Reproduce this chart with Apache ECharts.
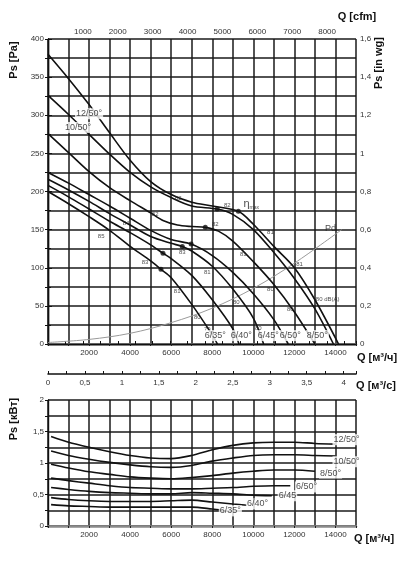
<!DOCTYPE html>
<html>
<head>
<meta charset="utf-8">
<script src="https://cdn.jsdelivr.net/npm/echarts/dist/echarts.min.js"></script>
<style>
html,body{margin:0;padding:0;background:#fff}
#main{width:398px;height:561px}
</style>
</head>
<body>
<div id="main"></div>
<script>
// fan curves, static pressure Ps [Pa] vs Q [m3/h]
var q_12_50 = [0, 1000, 2000, 3000, 4000, 5000, 6000, 7000, 8000, 9270, 10000, 11000, 12000, 13000, 14150];
var ps_12_50 = [380, 348, 314, 277, 241, 213, 196, 186, 181, 174, 157, 128, 100, 58, 0];
var q_10_50 = [0, 1000, 2000, 3000, 4000, 5000, 6000, 7000, 8240, 9000, 10000, 11000, 12000, 13000, 13900];
var ps_10_50 = [326, 301, 275, 249, 225, 206, 192, 181, 177, 170, 150, 120, 86, 46, 0];
var q_8_50 = [0, 1000, 2000, 3000, 4000, 5000, 5600, 6300, 7000, 7660, 8300, 9000, 10000, 11000, 12000, 13000];
var ps_8_50 = [276, 251, 226, 205, 188, 172, 162, 156, 154, 153, 148, 135, 108, 78, 42, 0];
var q_6_50 = [0, 1000, 2000, 3000, 4000, 5000, 6000, 6970, 8000, 9000, 10000, 11000, 11700];
var ps_6_50 = [225, 211, 196, 181, 165, 149, 137, 131, 116, 94, 66, 32, 0];
var q_6_45 = [0, 1000, 2000, 3000, 4000, 5000, 6000, 6540, 7000, 8000, 9000, 10000, 10500];
var ps_6_45 = [216, 202, 187, 171, 156, 141, 132, 128, 122, 102, 72, 34, 0];
var q_6_40 = [0, 1000, 2000, 3000, 4000, 5000, 5600, 6000, 7000, 8000, 9000, 9300];
var ps_6_40 = [208, 193, 177, 161, 146, 130, 119, 112, 90, 58, 20, 0];
var q_6_35 = [0, 1000, 2000, 3000, 4000, 5000, 5500, 6000, 7000, 8000, 8250];
var ps_6_35 = [200, 184, 167, 149, 128, 109, 98, 87, 52, 12, 0];

// dynamic pressure
var q_pd = [0, 2000, 4000, 6000, 8000, 10000, 12000, 14300];
var pd = [2, 6, 14, 28, 47, 73, 106, 150];

// operating points
var dotQ = [9270, 8240, 7660, 6970, 6540, 5600, 5500];
var dotPs = [174, 177, 153, 131, 128, 119, 98];

// dB(A) marks on the top chart
var dbQ = [6340, 5220, 3800, 2590, 6540, 4730, 8150, 8730, 10830, 9510, 7760, 6290, 12250, 10830, 9170, 11800, 10240, 7270, 7760, 13620];
var dbPs = [191, 170, 158, 141, 120, 107, 157, 182, 146, 117, 94, 69, 104, 72, 54, 45, 20, 35, 19, 58];
var dbText = ['82', '82', '84', '85', '83', '83', '82', '82', '81', '81', '81', '81', '81', '80', '80', '80', '80', '80', '79', '80 dB(A)'];

// curve names on the top chart
var nameQ = [2000, 1460, 8150, 9410, 10730, 11800, 13120];
var namePs = [302, 284, 11, 11, 11, 11, 11];
var nameText = ['12/50°', '10/50°', '6/35°', '6/40°', '6/45°', '6/50°', '8/50°'];

// power [kW] vs Q
var qp_12_50 = [150, 1000, 2000, 3000, 4000, 5000, 6000, 7000, 8000, 9000, 10000, 11000, 12000, 13000, 14000];
var kw_12_50 = [1.42, 1.33, 1.25, 1.18, 1.12, 1.08, 1.07, 1.12, 1.21, 1.28, 1.32, 1.33, 1.33, 1.31, 1.30];
var qp_10_50 = [150, 1000, 2000, 3000, 4000, 5000, 6000, 7000, 8000, 9000, 10000, 11000, 12000, 13000, 14000];
var kw_10_50 = [1.19, 1.12, 1.06, 1.01, 0.97, 0.94, 0.93, 0.96, 1.03, 1.08, 1.12, 1.13, 1.13, 1.12, 1.11];
var qp_8_50 = [150, 1000, 2000, 3000, 4000, 5000, 6000, 7000, 8000, 9000, 10000, 11000, 12000, 13000];
var kw_8_50 = [0.98, 0.92, 0.86, 0.82, 0.78, 0.76, 0.75, 0.77, 0.80, 0.84, 0.87, 0.89, 0.89, 0.87];
var qp_6_50 = [150, 1000, 2000, 3000, 4000, 5000, 6000, 7000, 8000, 9000, 10000, 11000, 11800];
var kw_6_50 = [0.76, 0.72, 0.68, 0.64, 0.61, 0.60, 0.59, 0.59, 0.60, 0.61, 0.63, 0.64, 0.64];
var qp_6_45 = [150, 1000, 2000, 3000, 4000, 5000, 6000, 7000, 8000, 9000, 10000, 10900];
var kw_6_45 = [0.61, 0.58, 0.55, 0.53, 0.52, 0.51, 0.51, 0.53, 0.52, 0.51, 0.49, 0.48];
var qp_6_40 = [150, 1000, 2000, 3000, 4000, 5000, 6000, 7000, 8000, 9000, 9700];
var kw_6_40 = [0.45, 0.42, 0.40, 0.39, 0.39, 0.39, 0.40, 0.41, 0.38, 0.35, 0.33];
var qp_6_35 = [150, 1000, 2000, 3000, 4000, 5000, 6000, 7000, 8000, 8500];
var kw_6_35 = [0.34, 0.32, 0.31, 0.30, 0.30, 0.30, 0.30, 0.30, 0.27, 0.25];

var powQ = [14540, 14540, 13760, 12590, 11660, 10200, 8880];
var powKw = [1.37, 1.02, 0.84, 0.62, 0.48, 0.35, 0.24];
var powText = ['12/50°', '10/50°', '8/50°', '6/50°', '6/45', '6/40°', '6/35°'];

var tickFont = 'Liberation Sans Narrow, Liberation Sans, sans-serif';
var gridLine = { color: '#1a1a1a', width: 1.5 };

function pairs(a, b) {
  return a.map(function (v, i) { return [v, b[i]]; });
}
function comma(v) {
  return String(+v.toFixed(2)).replace('.', ',');
}

function curve(q, p, xi, yi) {
  return {
    type: 'line',
    xAxisIndex: xi,
    yAxisIndex: yi,
    data: pairs(q, p),
    smooth: 0.3,
    symbol: 'none',
    silent: true,
    lineStyle: { color: '#111', width: 1.6 }
  };
}

function texts(q, p, t, xi, yi, size, bg) {
  return {
    type: 'scatter',
    xAxisIndex: xi,
    yAxisIndex: yi,
    z: 10,
    symbolSize: 1,
    itemStyle: { color: 'rgba(0,0,0,0)' },
    data: q.map(function (v, i) { return [v, p[i], t[i]]; }),
    label: {
      show: true,
      position: 'inside',
      formatter: function (o) { return o.data[2]; },
      fontSize: size,
      fontFamily: tickFont,
      color: '#222',
      backgroundColor: bg ? '#fff' : 'transparent',
      padding: bg ? [1, 1] : 0
    }
  };
}

function titleText(str, x, y, rot) {
  return {
    type: 'text',
    x: x,
    y: y,
    rotation: rot ? Math.PI / 2 : 0,
    style: {
      text: str,
      font: 'bold 11px Liberation Sans, Arial, sans-serif',
      fill: '#111',
      align: 'center',
      verticalAlign: 'middle'
    }
  };
}

var chart = echarts.init(document.getElementById('main'));

var option = {
  animation: false,
  grid: [
    { left: 48, top: 39, width: 308, height: 305 },
    { left: 48, top: 400, width: 308, height: 126 }
  ],
  xAxis: [
    {
      type: 'value', gridIndex: 0, min: 0, max: 15000, interval: 1000,
      axisLine: { lineStyle: { color: '#8a8a8a', width: 2.5 } },
      axisTick: { length: 2, lineStyle: { color: '#222' } },
      axisLabel: {
        fontSize: 8, color: '#333', fontFamily: tickFont, margin: 5,
        formatter: function (v) { return (v > 0 && v < 15000 && v % 2000 === 0) ? v : ''; }
      },
      splitLine: { show: true, lineStyle: gridLine }
    },
    {
      type: 'value', gridIndex: 0, position: 'top', min: 0, max: 8829, interval: 500,
      axisLine: { lineStyle: { color: '#111', width: 1.4 } },
      axisTick: { length: 3, lineStyle: { color: '#111' } },
      axisLabel: {
        fontSize: 8, color: '#333', fontFamily: tickFont, margin: 3,
        formatter: function (v) { return (v > 0 && v % 1000 === 0) ? v : ''; }
      },
      splitLine: { show: false }
    },
    {
      type: 'value', gridIndex: 0, position: 'bottom', offset: 30, min: 0, max: 15000 / 3600, interval: 0.25,
      axisLine: { lineStyle: { color: '#111', width: 1.6 } },
      axisTick: { length: 3, inside: true, lineStyle: { color: '#111' } },
      axisLabel: {
        fontSize: 8, color: '#333', fontFamily: tickFont, margin: 5,
        formatter: function (v) { return (Math.abs(v * 2 - Math.round(v * 2)) < 1e-6) ? comma(v) : ''; }
      },
      splitLine: { show: false }
    },
    {
      type: 'value', gridIndex: 1, min: 0, max: 15000, interval: 1000,
      axisLine: { lineStyle: { color: '#8a8a8a', width: 2.5 } },
      axisTick: { length: 2, lineStyle: { color: '#222' } },
      axisLabel: {
        fontSize: 8, color: '#333', fontFamily: tickFont, margin: 5,
        formatter: function (v) { return (v > 0 && v < 15000 && v % 2000 === 0) ? v : ''; }
      },
      splitLine: { show: true, lineStyle: gridLine }
    }
  ],
  yAxis: [
    {
      type: 'value', gridIndex: 0, min: 0, max: 400, interval: 25,
      axisLine: { show: true, lineStyle: { color: '#111', width: 1.4 } },
      axisTick: { show: true, length: 3, lineStyle: { color: '#111' } },
      axisLabel: {
        fontSize: 8, color: '#333', fontFamily: tickFont, margin: 4,
        formatter: function (v) { return v % 50 === 0 ? v : ''; }
      },
      splitLine: { show: true, lineStyle: gridLine }
    },
    {
      type: 'value', gridIndex: 0, position: 'right', min: 0, max: 1.6, interval: 0.2,
      axisLine: { show: true, lineStyle: { color: '#111', width: 1.4 } },
      axisTick: { show: true, length: 4, lineStyle: { color: '#111' } },
      minorTick: { show: true, splitNumber: 2, length: 3, lineStyle: { color: '#111' } },
      axisLabel: { fontSize: 8, color: '#333', fontFamily: tickFont, margin: 4, formatter: comma },
      splitLine: { show: false }
    },
    {
      type: 'value', gridIndex: 1, min: 0, max: 2, interval: 0.25,
      axisLine: { show: true, lineStyle: { color: '#111', width: 1.4 } },
      axisTick: { show: true, length: 3, lineStyle: { color: '#111' } },
      axisLabel: {
        fontSize: 8, color: '#333', fontFamily: tickFont, margin: 4,
        formatter: function (v) { return (Math.abs(v * 2 - Math.round(v * 2)) < 1e-6) ? comma(v) : ''; }
      },
      splitLine: { show: true, lineStyle: gridLine }
    }
  ],
  graphic: [
    titleText('Ps [Pa]', 14, 60, true),
    titleText('Ps [in wg]', 379, 63, true),
    titleText('Q [cfm]', 357, 17, false),
    titleText('Q [м³/ч]', 377, 358, false),
    titleText('Q [м³/с]', 376, 386, false),
    titleText('Ps [кВт]', 14, 419, true),
    titleText('Q [м³/ч]', 374, 539, false)
  ],
  series: [
    {
      type: 'line', xAxisIndex: 0, yAxisIndex: 0, data: pairs(q_pd, pd),
      smooth: 0.35, symbol: 'none', silent: true,
      lineStyle: { color: '#9a9a9a', width: 1 }
    },
    curve(q_12_50, ps_12_50, 0, 0),
    curve(q_10_50, ps_10_50, 0, 0),
    curve(q_8_50, ps_8_50, 0, 0),
    curve(q_6_50, ps_6_50, 0, 0),
    curve(q_6_45, ps_6_45, 0, 0),
    curve(q_6_40, ps_6_40, 0, 0),
    curve(q_6_35, ps_6_35, 0, 0),
    {
      type: 'scatter', xAxisIndex: 0, yAxisIndex: 0, z: 5,
      symbolSize: 5, itemStyle: { color: '#111' },
      data: pairs(dotQ, dotPs)
    },
    texts(dbQ, dbPs, dbText, 0, 0, 6, false),
    texts(nameQ, namePs, nameText, 0, 0, 9, true),
    texts([13760], [152], ['Pd'], 0, 0, 9, false),
    {
      type: 'scatter', xAxisIndex: 0, yAxisIndex: 0, z: 10, symbolSize: 1,
      itemStyle: { color: 'rgba(0,0,0,0)' },
      data: [[9900, 183]],
      label: {
        show: true, position: 'inside', formatter: '{a|η}{b|max}',
        rich: {
          a: { fontSize: 11, fontFamily: tickFont, color: '#222' },
          b: { fontSize: 5, fontFamily: tickFont, color: '#222', verticalAlign: 'bottom', padding: [5, 0, 0, 0] }
        }
      }
    },
    curve(qp_12_50, kw_12_50, 3, 2),
    curve(qp_10_50, kw_10_50, 3, 2),
    curve(qp_8_50, kw_8_50, 3, 2),
    curve(qp_6_50, kw_6_50, 3, 2),
    curve(qp_6_45, kw_6_45, 3, 2),
    curve(qp_6_40, kw_6_40, 3, 2),
    curve(qp_6_35, kw_6_35, 3, 2),
    texts(powQ, powKw, powText, 3, 2, 9, true)
  ]
};

chart.setOption(option);
</script>
</body>
</html>
